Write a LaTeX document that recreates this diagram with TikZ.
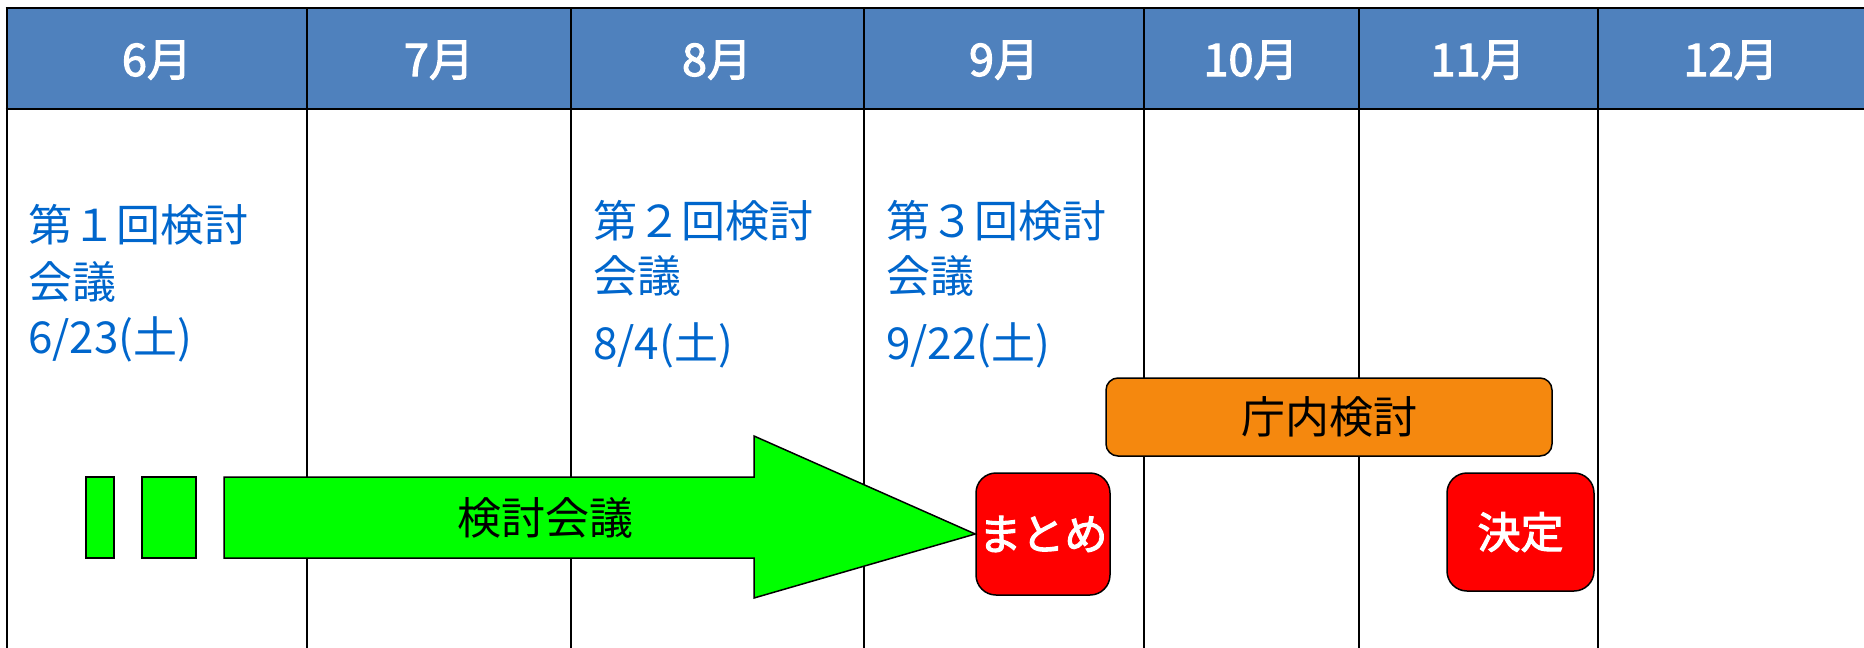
\documentclass[tikz,border=0pt]{standalone}
\usepackage{fontspec}
\setmainfont{Noto Sans CJK JP}
\newfontfamily\medfont{Noto Sans CJK JP}[FakeBold=2.5]
\definecolor{hdrblue}{HTML}{4F81BD}
\definecolor{txtblue}{HTML}{0066CC}
\definecolor{orng}{HTML}{F5880E}
\definecolor{grn}{HTML}{00FF00}
\begin{document}
\begin{tikzpicture}[x=1pt,y=-1pt,
  hdrtext/.style={text=white,font=\medfont\fontsize{45}{45}\selectfont,anchor=base,inner sep=0pt},
  bluetext/.style={text=txtblue,font=\fontsize{44}{44}\selectfont,anchor=base west,inner sep=0pt},
  gridline/.style={draw=black,line width=2pt},
  hdrline/.style={draw=black,line width=2.6pt},
  redbox/.style={draw=black,line width=1.5pt,fill=red,rounded corners=20pt,text=white,font=\medfont\fontsize{43}{43}\selectfont,inner sep=0pt},
  orangebox/.style={draw=black,line width=1.5pt,fill=orng,rounded corners=12pt,text=black,font=\fontsize{44}{44}\selectfont,inner sep=0pt},
  greenshape/.style={draw=black,line width=1.5pt,fill=grn}]
\useasboundingbox (0,0) rectangle (1864,648);
% header band
\fill[hdrblue] (7,8) rectangle (1864,109);
% grid lines
\foreach \xx in {307,571,864,1144,1359,1598}{
  \draw[gridline] (\xx,109) -- (\xx,648);
  \draw[hdrline] (\xx,8) -- (\xx,109);
}
\draw[gridline] (7,109) -- (7,648);
\draw[hdrline] (7,8) -- (7,109);
\draw[hdrline] (5.7,8) -- (1864,8);
\draw[hdrline] (5.7,109) -- (1864,109);
% header labels
\node[hdrtext] (m6) at (157,76) {6月};
\node[hdrtext] (m7) at (439,76) {7月};
\node[hdrtext] (m8) at (717,76) {8月};
\node[hdrtext] (m9) at (1004,76) {9月};
\node[hdrtext] (m10) at (1251,76) {10月};
\node[hdrtext] (m11) at (1478,76) {11月};
\node[hdrtext] (m12) at (1731,76) {12月};
% meeting labels
\node[bluetext] (k1a) at (28,241) {第１回検討};
\node[bluetext] (k1b) at (28,298) {会議};
\node[bluetext] (k1c) at (28,353) {6/23(土)};
\node[bluetext] (k2a) at (593,237) {第２回検討};
\node[bluetext] (k2b) at (593,292) {会議};
\node[bluetext] (k2c) at (593,359) {8/4(土)};
\node[bluetext] (k3a) at (886,237) {第３回検討};
\node[bluetext] (k3b) at (886,292) {会議};
\node[bluetext] (k3c) at (886,359) {9/22(土)};
% boxes
\node[orangebox, minimum width=446pt, minimum height=78pt] (chonai) at (1329,417) {庁内検討};
\node[redbox, minimum width=134pt, minimum height=122pt] (matome) at (1043,534) {まとめ};
\node[redbox, minimum width=147pt, minimum height=118pt] (kettei) at (1520.5,532) {決定};
% green arrow
\coordinate (tip) at (matome.west);
\path[greenshape] (86,477) rectangle (114,558);
\path[greenshape] (142,477) rectangle (196,558);
\path[greenshape] (224,477) -- (754,477) -- (754,436) -- (tip) -- (754,598) -- (754,558) -- (224,558) -- cycle;
\node[text=black,font=\fontsize{44}{44}\selectfont,inner sep=0pt] (kaigi) at (545,518) {検討会議};
\end{tikzpicture}
\end{document}
